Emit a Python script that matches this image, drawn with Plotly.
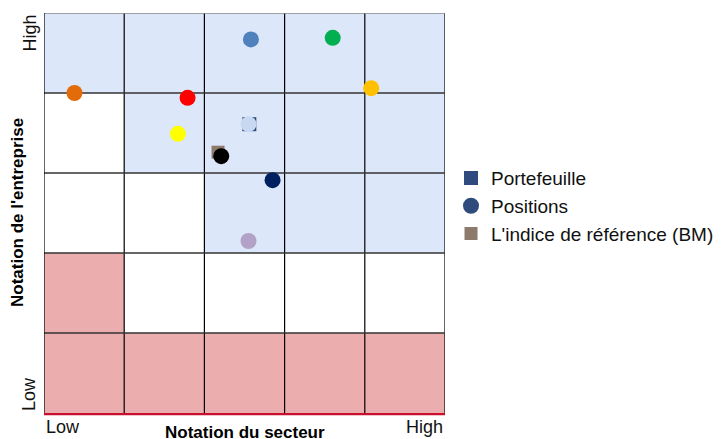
import plotly.graph_objects as go

# --- data ---
pos_x = [2.58, 3.60, 0.38, 1.79, 4.08, 1.67, 2.55, 2.21, 2.85, 2.55]
pos_y = [4.67, 4.69, 4.00, 3.94, 4.06, 3.49, 3.61, 3.21, 2.91, 2.15]
pos_colors = ["#4f81bd", "#00b050", "#e36c0a", "#ff0000", "#ffc000",
              "#ffff00", "#c6d9f1", "#000000", "#002060", "#b3a2c7"]
port_x = [2.56]
port_y = [3.61]
bm_x = [2.17]
bm_y = [3.26]
# cell zones, rows from bottom (sector rating columns Low->High)
cells = [
    ["r", "r", "r", "r", "r"],
    ["r", "w", "w", "w", "w"],
    ["w", "w", "b", "b", "b"],
    ["w", "b", "b", "b", "b"],
    ["b", "b", "b", "b", "b"],
]
zone_colors = {"r": "#ebadad", "w": "#ffffff", "b": "#dde7fa"}
x_tick_labels = ["Low", "High"]
y_tick_labels = ["Low", "High"]
x_title = "Notation du secteur"
y_title = "Notation de l'entreprise"
legend_names = ["Portefeuille", "Positions", "L'indice de référence (BM)"]

FONT = "Liberation Sans, Arial, sans-serif"
n = len(cells)

shapes = []
for r, row in enumerate(cells):
    for c, z in enumerate(row):
        shapes.append(dict(type="rect", xref="x", yref="y", x0=c, x1=c + 1, y0=r, y1=r + 1,
                           fillcolor=zone_colors[z], line=dict(width=0), layer="below"))
for i in range(1, n + 1):
    shapes.append(dict(type="line", xref="x", yref="y", x0=i, x1=i, y0=0, y1=n,
                       line=dict(color="#000000", width=1.2), layer="below"))
for i in range(1, n + 1):
    shapes.append(dict(type="line", xref="x", yref="y", x0=0, x1=n, y0=i, y1=i,
                       line=dict(color="#333333" if i < n else "#888888", width=1.5), layer="below"))
shapes.append(dict(type="line", xref="x", yref="y", x0=0, x1=0, y0=0, y1=n,
                   line=dict(color="#000000", width=1.2), layer="below"))
shapes.append(dict(type="line", xref="paper", yref="paper", x0=0, x1=1, y0=0, y1=0,
                   line=dict(color="#c8102e", width=4.5), layer="below"))

fig = go.Figure()
fig.add_trace(go.Scatter(x=bm_x, y=bm_y, mode="markers", name=legend_names[2], legendrank=3,
                         marker=dict(symbol="square", size=13, color="#8c7b6b")))
fig.add_trace(go.Scatter(x=port_x, y=port_y, mode="markers", name=legend_names[0], legendrank=1,
                         marker=dict(symbol="square", size=14, color="#2f4a7c")))
fig.add_trace(go.Scatter(x=pos_x, y=pos_y, mode="markers", name=legend_names[1], showlegend=False,
                         marker=dict(symbol="circle", size=16, color=pos_colors, line=dict(width=0))))
fig.add_trace(go.Scatter(x=[None], y=[None], mode="markers", name=legend_names[1], legendrank=2,
                         marker=dict(symbol="circle", size=16, color="#2f4a7c")))

annotations = [
    dict(text=x_tick_labels[0], xref="x", yref="paper", x=0, y=0, xanchor="left", yanchor="top",
         yshift=-2, showarrow=False, font=dict(size=18, color="#111", family=FONT)),
    dict(text=x_tick_labels[1], xref="x", yref="paper", x=n, y=0, xanchor="right", yanchor="top",
         yshift=-2, showarrow=False, font=dict(size=18, color="#111", family=FONT)),
    dict(text=y_tick_labels[0], xref="paper", yref="y", x=0, y=0, xanchor="center", yanchor="bottom",
         xshift=-15, textangle=-90, showarrow=False, font=dict(size=18, color="#111", family=FONT)),
    dict(text=y_tick_labels[1], xref="paper", yref="y", x=0, y=n, xanchor="center", yanchor="top",
         xshift=-15, textangle=-90, showarrow=False, font=dict(size=18, color="#111", family=FONT)),
    dict(text="<b>" + x_title + "</b>", xref="paper", yref="paper", x=0.5, y=0, xanchor="center",
         yanchor="top", yshift=-8, showarrow=False, font=dict(size=17, color="#000", family=FONT)),
    dict(text="<b>" + y_title + "</b>", xref="paper", yref="paper", x=0, y=0.5, xanchor="center",
         yanchor="middle", xshift=-27, textangle=-90, showarrow=False,
         font=dict(size=17, color="#000", family=FONT)),
]

fig.update_layout(
    width=714, height=431,
    margin=dict(l=36, r=277, t=5, b=26, autoexpand=False),
    paper_bgcolor="white", plot_bgcolor="white",
    shapes=shapes, annotations=annotations,
    xaxis=dict(range=[0, n], showgrid=False, zeroline=False, showticklabels=False, ticks="",
               fixedrange=True),
    yaxis=dict(range=[0, n], showgrid=False, zeroline=False, showticklabels=False, ticks="",
               fixedrange=True),
    legend=dict(x=1.015, y=0.517, xanchor="left", yanchor="middle",
                font=dict(size=19, color="#111", family=FONT),
                itemsizing="trace", tracegroupgap=0, bgcolor="rgba(0,0,0,0)"),
    showlegend=True,
)

fig.write_html("out.html")
